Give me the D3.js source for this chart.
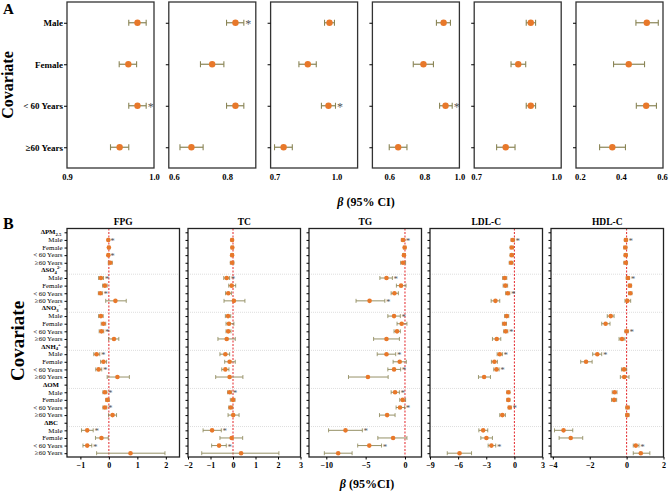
<!DOCTYPE html>
<html>
<head>
<meta charset="utf-8">
<script src="https://cdn.jsdelivr.net/npm/d3@7"></script>
<style>
  body { margin: 0; background: #fff; }
  text { font-family: "Liberation Serif", "Times New Roman", serif; }
</style>
</head>
<body>
<svg id="chart" width="669" height="491"></svg>
<script>
// ---------- panel A data ----------
var covA = ["Male", "Female", "< 60 Years", "≥60 Years"];
var domainsA = [[0.9, 1.0], [0.581, 0.908], [0.681, 1.102], [0.504, 1.0], [0.693, 1.019], [0.181, 0.605]];
var ticksA = [[0.9, 1.0], [0.6, 0.8], [0.7, 1.0], [0.6, 0.8, 1.0], [0.7, 1.0], [0.2, 0.4, 0.6]];
var estA = [
  [0.981, 0.9705, 0.981, 0.9605],
  [0.8315, 0.744, 0.8315, 0.666],
  [0.966, 0.861, 0.961, 0.744],
  [0.910, 0.795, 0.921, 0.651],
  [0.905, 0.858, 0.905, 0.811],
  [0.526, 0.438, 0.523, 0.358]
];
var loA = [
  [0.971, 0.960, 0.971, 0.950],
  [0.798, 0.700, 0.798, 0.623],
  [0.942, 0.818, 0.927, 0.700],
  [0.869, 0.737, 0.887, 0.600],
  [0.888, 0.831, 0.888, 0.777],
  [0.473, 0.364, 0.475, 0.296]
];
var hiA = [
  [0.991, 0.980, 0.991, 0.971],
  [0.863, 0.788, 0.863, 0.710],
  [0.990, 0.902, 0.995, 0.786],
  [0.949, 0.852, 0.959, 0.701],
  [0.923, 0.886, 0.923, 0.846],
  [0.582, 0.515, 0.573, 0.422]
];
var sigA = [[0, 0, 1, 0], [1, 0, 0, 0], [0, 0, 1, 0], [0, 0, 1, 0], [0, 0, 0, 0], [0, 0, 0, 0]];

// ---------- panel B data ----------
var outcomes = ["FPG", "TC", "TG", "LDL-C", "HDL-C"];
var pollutantBase = ["ΔPM", "ΔSO", "ΔNO", "ΔNH", "ΔOM", "ΔBC"];
var pollutantSub = ["2.5", "4", "3", "4", "", ""];
var pollutantSup = ["", "2-", "-", "+", "", ""];
var covB = ["Male", "Female", "< 60 Years", "≥60 Years"];
var domainsB = [[-1.47, 2.48], [-2, 3], [-12.2, 2.1], [-9, 3], [-4.1, 2]];
var ticksB = [[-1, 0, 1, 2], [-2, -1, 0, 1, 2, 3], [-10, -5, 0], [-9, -6, -3, 0, 3], [-4, -2, 0, 2]];

// each row: [estimate, lower, upper, significant]
var fpg = [
  [-0.02, -0.05, 0.01, 1], [0.00, -0.03, 0.03, 0], [-0.02, -0.05, 0.01, 1], [0.05, -0.02, 0.12, 0],
  [-0.28, -0.36, -0.19, 1], [-0.14, -0.22, -0.06, 0], [-0.30, -0.37, -0.23, 1], [0.23, -0.11, 0.61, 0],
  [-0.28, -0.36, -0.20, 0], [-0.19, -0.27, -0.11, 0], [-0.26, -0.34, -0.18, 1], [0.18, -0.01, 0.35, 0],
  [-0.43, -0.53, -0.32, 1], [-0.19, -0.29, -0.08, 0], [-0.36, -0.46, -0.25, 1], [0.30, -0.06, 0.72, 0],
  [-0.14, -0.21, -0.07, 1], [-0.05, -0.11, 0.01, 0], [-0.14, -0.21, -0.07, 1], [0.13, -0.01, 0.27, 0],
  [-0.76, -0.96, -0.55, 1], [-0.26, -0.47, -0.02, 0], [-0.76, -0.91, -0.60, 1], [0.76, -0.43, 1.97, 0]
];
var tc = [
  [-0.04, -0.09, 0.01, 0], [-0.03, -0.08, 0.02, 0], [-0.04, -0.09, 0.01, 0], [-0.04, -0.12, 0.04, 0],
  [-0.28, -0.41, -0.15, 1], [-0.06, -0.19, 0.12, 0], [-0.21, -0.33, -0.07, 0], [0.04, -0.40, 0.53, 0],
  [-0.22, -0.34, -0.10, 0], [-0.18, -0.31, 0.04, 0], [-0.21, -0.31, -0.09, 0], [-0.28, -0.67, 0.10, 0],
  [-0.34, -0.58, -0.15, 0], [-0.15, -0.37, 0.10, 0], [-0.34, -0.50, -0.18, 0], [-0.15, -0.77, 0.44, 0],
  [-0.15, -0.24, -0.06, 1], [0.00, -0.12, 0.09, 0], [-0.10, -0.19, -0.01, 0], [0.01, -0.22, 0.27, 0],
  [-0.93, -1.33, -0.52, 1], [-0.06, -0.58, 0.43, 0], [-0.62, -0.95, -0.30, 1], [0.36, -1.39, 2.04, 0]
];
var tg = [
  [-0.25, -0.46, -0.04, 1], [-0.04, -0.20, 0.12, 0], [-0.13, -0.30, 0.04, 0], [-0.25, -0.55, 0.08, 0],
  [-2.35, -3.19, -1.60, 1], [-0.50, -1.09, 0.13, 0], [-1.34, -1.76, -0.84, 0], [-4.50, -6.22, -2.56, 1],
  [-1.39, -2.18, -0.59, 1], [-0.42, -1.01, 0.25, 0], [-1.01, -1.39, -0.59, 0], [-2.35, -3.99, -0.71, 0],
  [-2.35, -3.53, -1.18, 1], [-0.67, -1.51, 0.17, 0], [-1.39, -2.18, -0.55, 1], [-4.71, -7.18, -2.14, 0],
  [-1.26, -1.76, -0.71, 1], [-0.29, -0.67, 0.08, 0], [-0.63, -1.13, -0.04, 1], [-2.27, -3.24, -1.26, 0],
  [-7.56, -9.71, -5.42, 1], [-1.51, -3.45, 0.25, 0], [-4.54, -6.01, -2.98, 1], [-8.49, -10.25, -6.72, 0]
];
var ldl = [
  [-0.18, -0.35, -0.01, 1], [-0.28, -0.45, -0.11, 0], [-0.28, -0.45, -0.11, 0], [-0.35, -0.55, -0.15, 0],
  [-1.03, -1.25, -0.81, 0], [-0.96, -1.20, -0.72, 0], [-0.71, -0.93, -0.49, 1], [-2.02, -2.48, -1.56, 0],
  [-0.82, -1.04, -0.60, 0], [-1.06, -1.28, -0.84, 0], [-0.92, -1.14, -0.70, 1], [-1.88, -2.34, -1.45, 0],
  [-1.56, -1.84, -1.28, 1], [-2.13, -2.45, -1.81, 0], [-1.91, -2.20, -1.63, 1], [-3.23, -3.83, -2.55, 0],
  [-0.64, -0.80, -0.48, 0], [-0.64, -0.80, -0.48, 0], [-0.50, -0.66, -0.34, 1], [-1.28, -1.56, -0.96, 0],
  [-3.33, -3.79, -2.84, 0], [-2.98, -3.58, -2.34, 0], [-2.45, -2.80, -1.99, 1], [-5.85, -7.16, -4.57, 0]
];
var hdl = [
  [-0.04, -0.12, 0.04, 1], [-0.07, -0.15, 0.01, 0], [-0.05, -0.13, 0.03, 0], [-0.05, -0.15, 0.05, 0],
  [0.07, -0.02, 0.16, 1], [0.18, 0.09, 0.27, 0], [0.20, 0.11, 0.29, 0], [0.04, -0.09, 0.22, 0],
  [-0.86, -1.05, -0.68, 0], [-1.14, -1.35, -0.90, 0], [0.00, -0.09, 0.09, 1], [-0.25, -0.41, -0.09, 0],
  [-1.59, -1.84, -1.35, 1], [-2.20, -2.49, -1.87, 0], [-0.14, -0.28, 0.00, 0], [-0.13, -0.34, 0.13, 0],
  [-0.65, -0.78, -0.52, 0], [-0.68, -0.82, -0.54, 0], [0.05, -0.04, 0.14, 0], [0.04, -0.05, 0.13, 0],
  [-3.42, -3.91, -2.92, 0], [-3.03, -3.66, -2.38, 0], [0.50, 0.36, 0.67, 1], [0.77, 0.36, 1.26, 0]
];
var seriesB = [fpg, tc, tg, ldl, hdl];

var dotColor = "#e8782a", barColor = "#8a8556", starColor = "#555";

var svg = d3.select("#chart");

// ---------- panel A ----------
var topA = 2, bottomA = 168, widthA = 87;
var yA = d3.scalePoint().domain(covA).range([topA, bottomA]).padding(0.5);

domainsA.forEach(function (dom, i) {
  var x0 = 67 + i * 101.8;
  var x = d3.scaleLinear().domain(dom).range([x0, x0 + widthA]);
  var g = svg.append("g");

  g.append("rect")
    .attr("x", x0).attr("y", topA)
    .attr("width", widthA).attr("height", bottomA - topA)
    .attr("fill", "none").attr("stroke", "#333").attr("stroke-width", 1.3);

  var ya = g.append("g")
    .attr("transform", "translate(" + x0 + ",0)")
    .call(d3.axisLeft(yA).tickSize(3).tickPadding(1).tickFormat(i === 0 ? null : ""));
  ya.select(".domain").remove();
  ya.selectAll("text").attr("font-size", 9).attr("font-weight", "bold")
    .style("font-family", "'Liberation Serif', serif");

  var xa = g.append("g")
    .attr("transform", "translate(0," + bottomA + ")")
    .call(d3.axisBottom(x).tickValues(ticksA[i]).tickSize(0).tickPadding(6).tickFormat(d3.format(".1f")));
  xa.select(".domain").remove();
  xa.selectAll("text").attr("font-size", 8.5).attr("font-weight", "bold")
    .style("font-family", "'Liberation Serif', serif");

  covA.forEach(function (c, r) {
    var yy = yA(c);
    g.append("line")
      .attr("x1", x(loA[i][r])).attr("x2", x(hiA[i][r]))
      .attr("y1", yy).attr("y2", yy)
      .attr("stroke", barColor).attr("stroke-width", 1.2);
    [loA[i][r], hiA[i][r]].forEach(function (v) {
      g.append("line")
        .attr("x1", x(v)).attr("x2", x(v))
        .attr("y1", yy - 3).attr("y2", yy + 3)
        .attr("stroke", barColor).attr("stroke-width", 1.1);
    });
    g.append("circle")
      .attr("cx", x(estA[i][r])).attr("cy", yy).attr("r", 3.2)
      .attr("fill", dotColor);
    if (sigA[i][r]) {
      g.append("text")
        .attr("x", x(hiA[i][r]) + 1.5).attr("y", yy + 5)
        .attr("font-size", 12).attr("fill", starColor)
        .text("*");
    }
  });
});

svg.append("text").attr("x", 3).attr("y", 14)
  .attr("font-size", 15).attr("font-weight", "bold").text("A");

svg.append("text")
  .attr("transform", "translate(13,85) rotate(-90)")
  .attr("text-anchor", "middle")
  .attr("font-size", 16).attr("font-weight", "bold")
  .text("Covariate");

var betaA = svg.append("text").attr("x", 366).attr("y", 206)
  .attr("text-anchor", "middle").attr("font-size", 12).attr("font-weight", "bold");
betaA.append("tspan").attr("font-style", "italic").text("β");
betaA.append("tspan").text(" (95% CI)");

// ---------- panel B ----------
var topB = 228.5, bottomB = 457, widthB = 112.5;
var rowKeys = [];
pollutantBase.forEach(function (p, gi) {
  rowKeys.push("h" + gi);
  covB.forEach(function (c, ci) { rowKeys.push(gi + "-" + ci); });
});
var yB = d3.scalePoint().domain(rowKeys).range([topB, bottomB]).padding(0.5);

outcomes.forEach(function (name, j) {
  var x0 = 67 + j * 121;
  var x = d3.scaleLinear().domain(domainsB[j]).range([x0, x0 + widthB]);
  var g = svg.append("g");
  var data = seriesB[j];

  // group separators
  pollutantBase.forEach(function (p, gi) {
    if (gi === 0) return;
    var ys = (yB("h" + gi) + yB(gi + "-0")) / 2;
    g.append("line")
      .attr("x1", x0).attr("x2", x0 + widthB)
      .attr("y1", ys).attr("y2", ys)
      .attr("stroke", "#c8c8c8").attr("stroke-width", 0.6)
      .attr("stroke-dasharray", "1,1");
  });

  // zero line
  g.append("line")
    .attr("x1", x(0)).attr("x2", x(0))
    .attr("y1", topB).attr("y2", bottomB)
    .attr("stroke", "#e3262a").attr("stroke-width", 1)
    .attr("stroke-dasharray", "2,1.5");

  g.append("rect")
    .attr("x", x0).attr("y", topB)
    .attr("width", widthB).attr("height", bottomB - topB)
    .attr("fill", "none").attr("stroke", "#222").attr("stroke-width", 1.3);

  var ya = g.append("g")
    .attr("transform", "translate(" + x0 + ",0)")
    .call(d3.axisLeft(yB).tickSize(2.5).tickFormat(""));
  ya.select(".domain").remove();

  var xa = g.append("g")
    .attr("transform", "translate(0," + bottomB + ")")
    .call(d3.axisBottom(x).tickValues(ticksB[j]).tickSize(2.5).tickPadding(3).tickFormat(d3.format("d")));
  xa.select(".domain").remove();
  xa.selectAll("text").attr("font-size", 8).attr("font-weight", "bold")
    .style("font-family", "'Liberation Serif', serif");

  g.append("text")
    .attr("x", x0 + widthB / 2).attr("y", 225)
    .attr("text-anchor", "middle")
    .attr("font-size", 9.5).attr("font-weight", "bold")
    .text(name);

  data.forEach(function (d, k) {
    var gi = Math.floor(k / 4), ci = k % 4;
    var yy = yB(gi + "-" + ci);
    g.append("line")
      .attr("x1", x(d[1])).attr("x2", x(d[2]))
      .attr("y1", yy).attr("y2", yy)
      .attr("stroke", barColor).attr("stroke-width", 0.9);
    [d[1], d[2]].forEach(function (v) {
      g.append("line")
        .attr("x1", x(v)).attr("x2", x(v))
        .attr("y1", yy - 2).attr("y2", yy + 2)
        .attr("stroke", barColor).attr("stroke-width", 0.8);
    });
    g.append("circle")
      .attr("cx", x(d[0])).attr("cy", yy).attr("r", 2.3)
      .attr("fill", dotColor);
    if (d[3]) {
      g.append("text")
        .attr("x", x(d[2]) + 1.2).attr("y", yy + 4)
        .attr("font-size", 9).attr("fill", starColor)
        .text("*");
    }
  });
});

// panel B row labels
pollutantBase.forEach(function (p, gi) {
  var t = svg.append("text")
    .attr("x", 51).attr("y", yB("h" + gi) + 2)
    .attr("text-anchor", "middle")
    .attr("font-size", 6.8).attr("font-weight", "bold");
  t.append("tspan").text(p);
  if (pollutantSub[gi]) t.append("tspan").attr("font-size", 4.7).attr("dy", 1.5).text(pollutantSub[gi]);
  if (pollutantSup[gi]) t.append("tspan").attr("font-size", 4.7).attr("dy", -4.5).text(pollutantSup[gi]);
  covB.forEach(function (c, ci) {
    svg.append("text")
      .attr("x", 62.5).attr("y", yB(gi + "-" + ci) + 2.3)
      .attr("text-anchor", "end")
      .attr("font-size", 6.9)
      .text(c);
  });
});

svg.append("text").attr("x", 3).attr("y", 229)
  .attr("font-size", 16).attr("font-weight", "bold").text("B");

svg.append("text")
  .attr("transform", "translate(24,341) rotate(-90)")
  .attr("text-anchor", "middle")
  .attr("font-size", 19).attr("font-weight", "bold")
  .text("Covariate");

var betaB = svg.append("text").attr("x", 367).attr("y", 488)
  .attr("text-anchor", "middle").attr("font-size", 12).attr("font-weight", "bold");
betaB.append("tspan").attr("font-style", "italic").text("β");
betaB.append("tspan").text(" (95%CI)");
</script>
</body>
</html>
